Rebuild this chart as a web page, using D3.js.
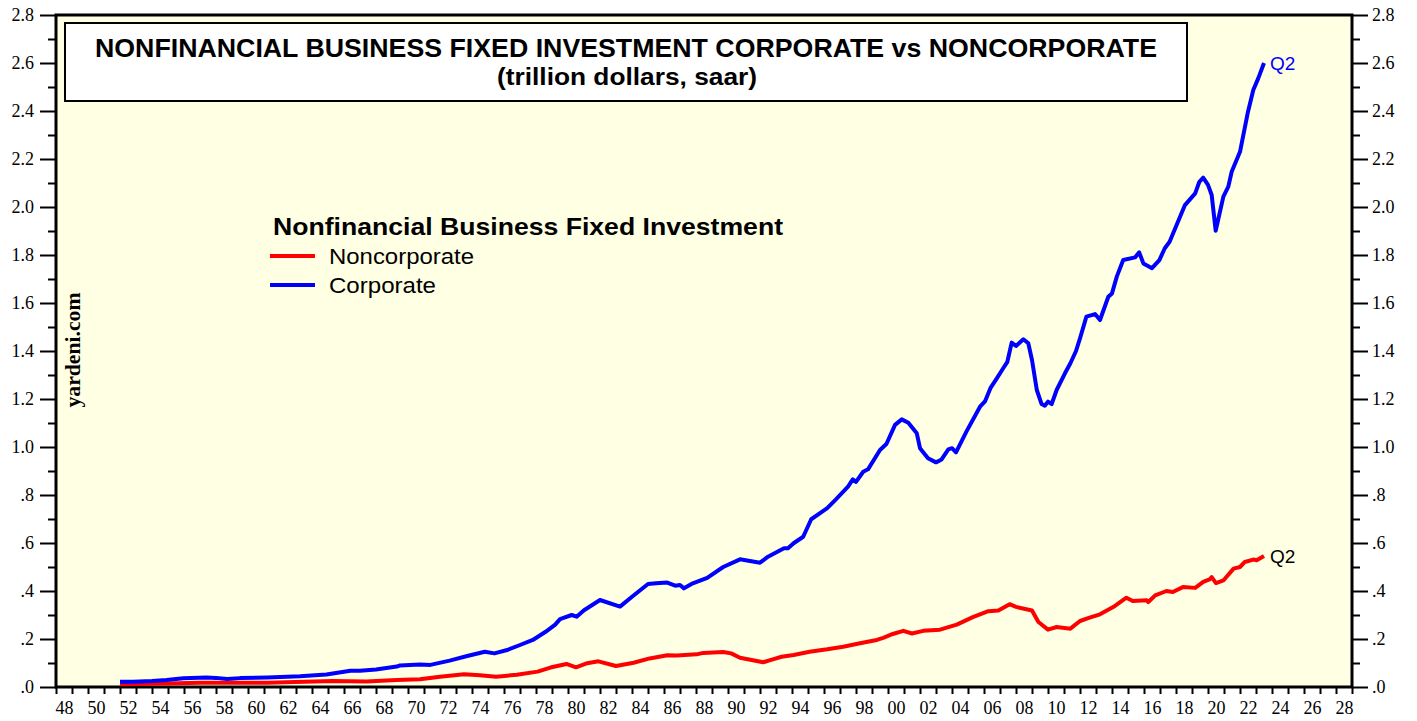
<!DOCTYPE html>
<html>
<head>
<meta charset="utf-8">
<script src="https://cdn.jsdelivr.net/npm/d3@7"></script>
<style>
  html, body { margin: 0; padding: 0; background: #ffffff; }
  svg { display: block; }
</style>
</head>
<body>
<svg id="chart" width="1417" height="721"></svg>
<script>
// ---------------- DATA ----------------
const corpYears = [1952.0,1952.8,1954.0,1954.9,1955.96,1957.4,1958.0,1958.7,1959.5,1961.2,1963.25,1964.9,1965.7,1966.4,1967.0,1968.0,1969.3,1969.5,1970.75,1971.4,1972.6,1973.7,1974.8,1975.4,1976.2,1977.0,1977.8,1978.6,1979.2,1979.5,1980.23,1980.54,1981.0,1982.0,1983.25,1984.0,1985.0,1985.5,1986.2,1986.7,1987.0,1987.25,1987.8,1988.7,1989.7,1990.75,1992.0,1992.5,1993.5,1993.75,1994.1,1994.7,1995.2,1996.2,1996.7,1997.5,1997.8,1998.0,1998.45,1998.75,1999.5,1999.9,2000.44,2000.86,2001.27,2001.8,2002.0,2002.5,2003.0,2003.35,2003.77,2004.0,2004.25,2004.9,2005.75,2006.06,2006.4,2006.8,2007.2,2007.46,2007.73,2008.0,2008.46,2008.77,2009.0,2009.3,2009.6,2009.8,2010.0,2010.23,2010.54,2011.06,2011.4,2011.75,2012.0,2012.4,2012.94,2013.25,2013.77,2014.0,2014.3,2014.7,2015.44,2015.7,2015.96,2016.5,2016.96,2017.3,2017.6,2018.56,2019.2,2019.46,2019.7,2020.0,2020.23,2020.48,2020.96,2021.27,2021.48,2022.0,2022.5,2022.83,2023.14,2023.5];
const corpValues = [0.022,0.022,0.025,0.029,0.036,0.040,0.038,0.033,0.037,0.040,0.045,0.052,0.060,0.068,0.068,0.073,0.085,0.090,0.094,0.092,0.110,0.129,0.147,0.140,0.154,0.175,0.196,0.230,0.260,0.283,0.300,0.293,0.320,0.3625,0.335,0.376,0.429,0.432,0.435,0.422,0.425,0.411,0.432,0.455,0.500,0.532,0.518,0.543,0.578,0.578,0.599,0.626,0.699,0.745,0.779,0.835,0.865,0.855,0.897,0.907,0.9875,1.0125,1.092,1.115,1.101,1.057,0.995,0.953,0.936,0.948,0.990,0.995,0.978,1.064,1.168,1.190,1.245,1.286,1.328,1.355,1.435,1.421,1.449,1.432,1.3625,1.2375,1.179,1.172,1.189,1.179,1.2375,1.307,1.349,1.400,1.453,1.543,1.554,1.529,1.626,1.640,1.710,1.779,1.790,1.811,1.765,1.745,1.779,1.828,1.855,2.008,2.057,2.105,2.122,2.092,2.050,1.901,2.043,2.085,2.147,2.230,2.397,2.4875,2.536,2.600];

const noncorpYears = [1952.0,1954.9,1957.0,1961.2,1965.3,1967.4,1969.3,1970.75,1972.0,1973.5,1974.5,1975.5,1976.8,1978.1,1978.9,1979.9,1980.5,1981.2,1981.9,1983.0,1984.1,1985.1,1985.96,1986.2,1986.8,1988.04,1988.45,1989.7,1990.2,1990.75,1992.2,1992.8,1993.35,1994.1,1995.1,1996.2,1997.2,1998.25,1999.3,1999.7,2000.3,2000.96,2001.5,2002.2,2003.25,2004.3,2005.3,2006.27,2006.9,2007.6,2008.0,2009.0,2009.4,2010.0,2010.54,2011.4,2012.0,2012.6,2013.25,2014.1,2014.9,2015.3,2016.17,2016.27,2016.7,2017.4,2017.8,2018.46,2019.2,2019.7,2020.1,2020.23,2020.5,2020.96,2021.6,2022.0,2022.3,2022.83,2023.04,2023.5];
const noncorpValues = [0.011,0.015,0.018,0.018,0.025,0.023,0.029,0.032,0.043,0.053,0.049,0.043,0.051,0.064,0.081,0.096,0.082,0.099,0.107,0.0875,0.101,0.119,0.129,0.132,0.131,0.136,0.142,0.146,0.140,0.122,0.103,0.115,0.126,0.133,0.147,0.157,0.168,0.182,0.196,0.205,0.221,0.234,0.223,0.234,0.239,0.260,0.291,0.316,0.319,0.345,0.334,0.319,0.271,0.239,0.250,0.243,0.275,0.289,0.303,0.334,0.372,0.358,0.361,0.354,0.382,0.400,0.396,0.417,0.413,0.438,0.448,0.458,0.433,0.444,0.493,0.500,0.521,0.531,0.528,0.546];

const yMajorTicks = [0,0.2,0.4,0.6,0.8,1.0,1.2,1.4,1.6,1.8,2.0,2.2,2.4,2.6,2.8];
const yTickLabels = [".0",".2",".4",".6",".8","1.0","1.2","1.4","1.6","1.8","2.0","2.2","2.4","2.6","2.8"];
const yMinorTicks = [0.1,0.3,0.5,0.7,0.9,1.1,1.3,1.5,1.7,1.9,2.1,2.3,2.5,2.7];
const xYearTicks = d3.range(1948, 2030);           // annual ticks
const xLabelYears = d3.range(1948, 2029, 2);        // labelled years
const xLabelText = xLabelYears.map(y => String(y % 100).padStart(2, "0"));

const chartTitle = "NONFINANCIAL BUSINESS FIXED INVESTMENT CORPORATE vs NONCORPORATE";
const chartSubtitle = "(trillion dollars, saar)";
const legendTitle = "Nonfinancial Business Fixed Investment";
const seriesNames = ["Noncorporate", "Corporate"];
const seriesColors = ["#ff0000", "#0000ff"];
const endLabel = "Q2";

// ---------------- LAYOUT ----------------
const L = 56, R = 1352, T = 15, B = 687;
const svg = d3.select("#chart");
const serif = "'Liberation Serif', 'Times New Roman', serif";
const sans = "'Liberation Sans', Arial, sans-serif";

const x = d3.scaleLinear().domain([1948, 2029]).range([L, R]);
const y = d3.scaleLinear().domain([0, 2.8]).range([B, T]);

// plot background
svg.append("rect").attr("x", L).attr("y", T).attr("width", R - L).attr("height", B - T)
  .attr("fill", "#ffffe3");

// ---------------- AXES ----------------
const labelMap = new Map(yMajorTicks.map((v, i) => [v, yTickLabels[i]]));
function styleAxis(g) {
  g.select(".domain").remove();
  g.selectAll(".tick line").attr("stroke", "#000").attr("stroke-width", 2);
  g.selectAll(".tick text").attr("fill", "#000").attr("font-family", serif).attr("font-size", 18);
}
// left
svg.append("g").attr("transform", `translate(${L},0)`)
  .call(d3.axisLeft(y).tickValues(yMajorTicks).tickSize(16).tickPadding(6).tickFormat(d => labelMap.get(d)))
  .call(styleAxis);
svg.append("g").attr("transform", `translate(${L},0)`)
  .call(d3.axisLeft(y).tickValues(yMinorTicks).tickSize(8).tickFormat(""))
  .call(styleAxis);
// right
svg.append("g").attr("transform", `translate(${R},0)`)
  .call(d3.axisRight(y).tickValues(yMajorTicks).tickSize(16).tickPadding(4).tickFormat(d => labelMap.get(d)))
  .call(styleAxis);
svg.append("g").attr("transform", `translate(${R},0)`)
  .call(d3.axisRight(y).tickValues(yMinorTicks).tickSize(8).tickFormat(""))
  .call(styleAxis);
// bottom ticks (annual)
svg.append("g").attr("transform", `translate(0,${B})`)
  .call(d3.axisBottom(x).tickValues(xYearTicks).tickSize(7).tickFormat(""))
  .call(styleAxis);
// bottom labels (centred in year)
const xLab = new Map(xLabelYears.map((v, i) => [v + 0.5, xLabelText[i]]));
svg.append("g").attr("transform", `translate(0,${B})`)
  .call(d3.axisBottom(x).tickValues(xLabelYears.map(v => v + 0.5)).tickSize(0).tickPadding(14).tickFormat(d => xLab.get(d)))
  .call(styleAxis);

// frame
svg.append("rect").attr("x", L).attr("y", T).attr("width", R - L).attr("height", B - T)
  .attr("fill", "none").attr("stroke", "#000").attr("stroke-width", 3);

// ---------------- TITLE BOX ----------------
svg.append("rect").attr("x", 65).attr("y", 23).attr("width", 1122).attr("height", 78)
  .attr("fill", "#ffffff").attr("stroke", "#000").attr("stroke-width", 2);
svg.append("text").attr("x", 95).attr("y", 57)
  .attr("font-family", sans).attr("font-weight", "bold").attr("font-size", 25)
  .attr("textLength", 1062).attr("lengthAdjust", "spacingAndGlyphs")
  .text(chartTitle);
svg.append("text").attr("x", 497).attr("y", 85)
  .attr("font-family", sans).attr("font-weight", "bold").attr("font-size", 23)
  .attr("textLength", 260).attr("lengthAdjust", "spacingAndGlyphs")
  .text(chartSubtitle);

// ---------------- LINES ----------------
const line = d3.line().x(d => x(d[0])).y(d => y(d[1])).curve(d3.curveLinear);
const noncorp = noncorpYears.map((v, i) => [v, noncorpValues[i]]);
const corp = corpYears.map((v, i) => [v, corpValues[i]]);

svg.append("path").datum(noncorp).attr("d", line).attr("fill", "none")
  .attr("stroke", seriesColors[0]).attr("stroke-width", 4).attr("stroke-linejoin", "round");
svg.append("path").datum(corp).attr("d", line).attr("fill", "none")
  .attr("stroke", seriesColors[1]).attr("stroke-width", 4).attr("stroke-linejoin", "round");

// end labels
const lastC = corp[corp.length - 1], lastN = noncorp[noncorp.length - 1];
svg.append("text").attr("x", x(lastC[0]) + 6).attr("y", y(lastC[1]) + 7)
  .attr("font-family", sans).attr("font-size", 19).attr("fill", seriesColors[1]).text(endLabel);
svg.append("text").attr("x", x(lastN[0]) + 6).attr("y", y(lastN[1]) + 7)
  .attr("font-family", sans).attr("font-size", 19).attr("fill", "#000").text(endLabel);

// ---------------- LEGEND ----------------
const legendLengths = [145, 107];
svg.append("text").attr("x", 273).attr("y", 235)
  .attr("font-family", sans).attr("font-weight", "bold").attr("font-size", 24)
  .attr("textLength", 510).attr("lengthAdjust", "spacingAndGlyphs").text(legendTitle);
seriesNames.forEach((name, i) => {
  const yy = 256 + i * 29;
  svg.append("line").attr("x1", 270).attr("x2", 315).attr("y1", yy).attr("y2", yy)
    .attr("stroke", seriesColors[i]).attr("stroke-width", 4);
  svg.append("text").attr("x", 329).attr("y", yy + 8)
    .attr("font-family", sans).attr("font-size", 22)
    .attr("textLength", legendLengths[i]).attr("lengthAdjust", "spacingAndGlyphs").text(name);
});

// ---------------- WATERMARK ----------------
svg.append("text").attr("transform", "translate(80,350) rotate(-90)")
  .attr("text-anchor", "middle").attr("font-family", serif).attr("font-weight", "bold")
  .attr("font-size", 20).attr("textLength", 115).attr("lengthAdjust", "spacingAndGlyphs")
  .text("yardeni.com");
</script>
</body>
</html>
